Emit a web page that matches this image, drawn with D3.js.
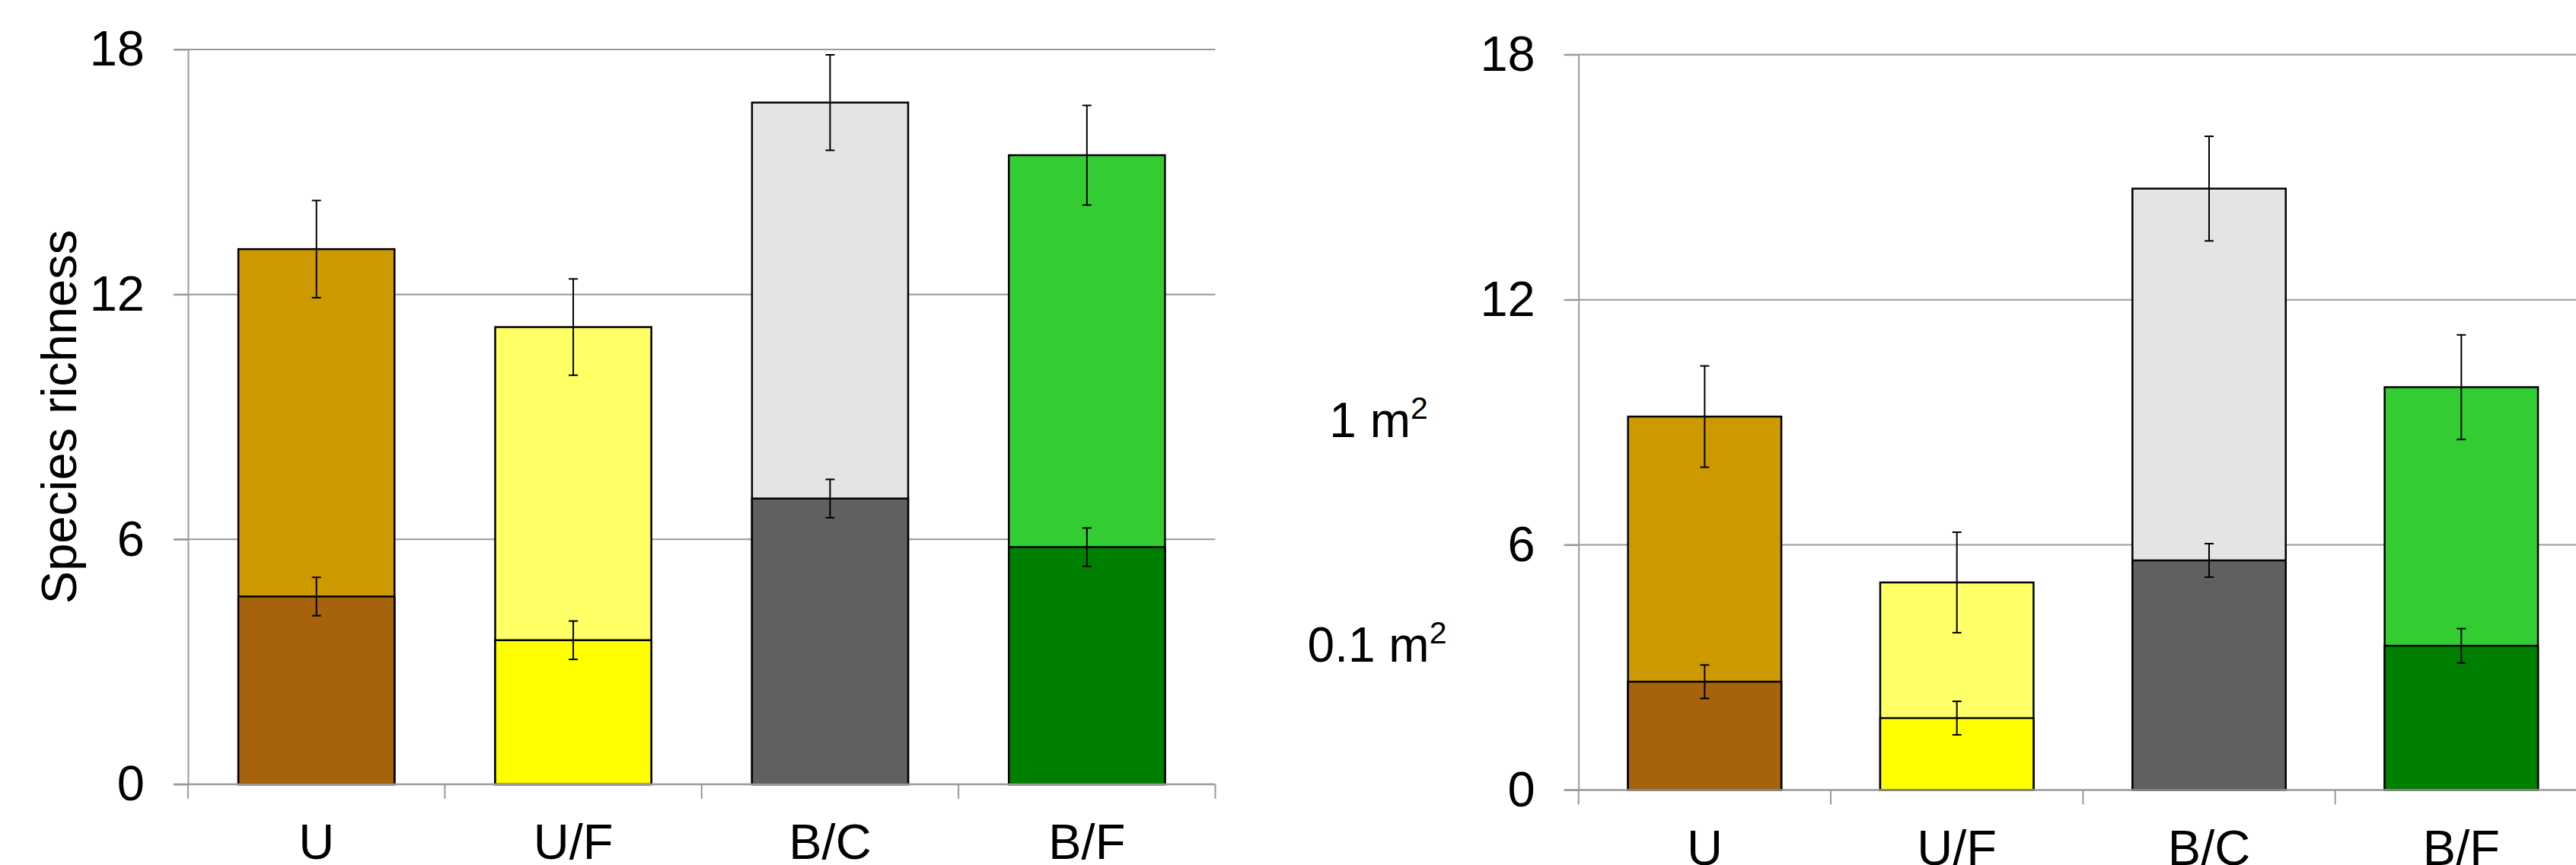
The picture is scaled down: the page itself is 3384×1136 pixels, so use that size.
<!DOCTYPE html>
<html>
<head>
<meta charset="utf-8">
<script src="https://cdn.jsdelivr.net/npm/d3@7"></script>
<style>
  body { margin: 0; background: #fff; }
  text { font-family: "Liberation Sans", Arial, sans-serif; fill: #000; }
</style>
</head>
<body>
<svg id="chart"></svg>
<script>
let width = 3384;
let height = 1136;

let categories = ["U", "U/F", "B/C", "B/F"];
let yTicks = [0, 6, 12, 18];

// left panel
let leftBig = [13.11, 11.20, 16.70, 15.41];
let leftBigErr = [1.19, 1.18, 1.17, 1.22];
let leftSmall = [4.60, 3.53, 7.00, 5.81];
let leftSmallErr = [0.47, 0.47, 0.47, 0.47];

// right panel
let rightBig = [9.14, 5.08, 14.72, 9.86];
let rightBigErr = [1.24, 1.23, 1.28, 1.28];
let rightSmall = [2.65, 1.76, 5.62, 3.53];
let rightSmallErr = [0.41, 0.41, 0.41, 0.42];

let bigColors = ["#cc9900", "#ffff66", "#e4e4e4", "#33cc33"];
let smallColors = ["#a6630c", "#ffff00", "#606060", "#008000"];

let svg = d3.select("#chart")
    .attr("width", width)
    .attr("height", height)

let panels = [
    { x0: 247, x1: 1596.5, top: 65, bottom: 1030, big: leftBig, bigErr: leftBigErr, small: leftSmall, smallErr: leftSmallErr, title: "Species richness" },
    { x0: 2073.7, x1: 3399, top: 71.7, bottom: 1037.5, big: rightBig, bigErr: rightBigErr, small: rightSmall, smallErr: rightSmallErr, title: null }
]

panels.forEach(p => drawPanel(p))

// size labels between the panels
let sizeLabels = [
    { main: "1 m", sup: "2", x: 1811, y: 574 },
    { main: "0.1 m", sup: "2", x: 1809, y: 869 }
]

sizeLabels.forEach(d => {
    let t = svg.append("text")
        .attr("x", d.x)
        .attr("y", d.y)
        .attr("text-anchor", "middle")
        .style("font-size", "64px")
    t.append("tspan").text(d.main)
    t.append("tspan")
        .attr("dy", -24)
        .style("font-size", "41px")
        .text(d.sup)
})

function drawPanel(p) {
    let x = d3.scaleBand()
        .domain(categories)
        .range([p.x0, p.x1])
        .paddingInner(0.392)
        .paddingOuter(0.196)

    let y = d3.scaleLinear()
        .domain([0, 18])
        .range([p.bottom, p.top])

    let g = svg.append("g")

    // gridlines
    g.selectAll(".grid")
        .data(yTicks.filter(t => t > 0))
        .enter()
        .append("line")
        .attr("x1", p.x0 - 19)
        .attr("x2", p.x1)
        .attr("y1", d => y(d))
        .attr("y2", d => y(d))
        .attr("stroke", "#999")
        .attr("stroke-width", 2)

    // y axis
    let yAxis = g.append("g")
        .attr("transform", `translate(${p.x0},0)`)
        .call(d3.axisLeft(y).tickValues(yTicks).tickSize(19).tickSizeOuter(0).tickPadding(38))
    yAxis.select(".domain").attr("stroke", "#999").attr("stroke-width", 2)
    yAxis.selectAll(".tick line").attr("stroke", "#999").attr("stroke-width", 2)
    yAxis.selectAll("text")
        .style("font-size", "65px")
        .style("font-family", "'Liberation Sans', Arial, sans-serif")
        .attr("fill", "#000")

    // 1 m2 bars
    g.selectAll(".big")
        .data(categories)
        .enter()
        .append("rect")
        .attr("x", d => x(d))
        .attr("width", x.bandwidth())
        .attr("y", (d, i) => y(p.big[i]))
        .attr("height", (d, i) => y(0) - y(p.big[i]))
        .attr("fill", (d, i) => bigColors[i])
        .attr("stroke", "#000")
        .attr("stroke-width", 2.5)

    // 0.1 m2 bars
    g.selectAll(".small")
        .data(categories)
        .enter()
        .append("rect")
        .attr("x", d => x(d))
        .attr("width", x.bandwidth())
        .attr("y", (d, i) => y(p.small[i]))
        .attr("height", (d, i) => y(0) - y(p.small[i]))
        .attr("fill", (d, i) => smallColors[i])
        .attr("stroke", "#000")
        .attr("stroke-width", 2.5)

    // error bars
    let errs = []
    categories.forEach((c, i) => {
        errs.push({ c: c, v: p.big[i], e: p.bigErr[i] })
        errs.push({ c: c, v: p.small[i], e: p.smallErr[i] })
    })

    let eb = g.selectAll(".err")
        .data(errs)
        .enter()
        .append("g")
        .attr("stroke", "#000")
        .attr("stroke-width", 2)

    eb.append("line")
        .attr("x1", d => x(d.c) + x.bandwidth() / 2)
        .attr("x2", d => x(d.c) + x.bandwidth() / 2)
        .attr("y1", d => y(d.v + d.e))
        .attr("y2", d => y(d.v - d.e))
    eb.append("line")
        .attr("x1", d => x(d.c) + x.bandwidth() / 2 - 6)
        .attr("x2", d => x(d.c) + x.bandwidth() / 2 + 6)
        .attr("y1", d => y(d.v + d.e))
        .attr("y2", d => y(d.v + d.e))
    eb.append("line")
        .attr("x1", d => x(d.c) + x.bandwidth() / 2 - 6)
        .attr("x2", d => x(d.c) + x.bandwidth() / 2 + 6)
        .attr("y1", d => y(d.v - d.e))
        .attr("y2", d => y(d.v - d.e))

    // baseline
    g.append("line")
        .attr("x1", p.x0 - 19)
        .attr("x2", p.x1)
        .attr("y1", y(0))
        .attr("y2", y(0))
        .attr("stroke", "#999")
        .attr("stroke-width", 2.5)

    // category boundary ticks
    g.selectAll(".ctick")
        .data(d3.range(categories.length + 1))
        .enter()
        .append("line")
        .attr("x1", i => p.x0 + i * x.step())
        .attr("x2", i => p.x0 + i * x.step())
        .attr("y1", y(0))
        .attr("y2", y(0) + 19)
        .attr("stroke", "#999")
        .attr("stroke-width", 2)

    // category labels
    let xAxis = g.append("g")
        .attr("transform", `translate(0,${y(0)})`)
        .call(d3.axisBottom(x).tickSize(0).tickPadding(52))
    xAxis.select(".domain").remove()
    xAxis.selectAll("text")
        .style("font-size", "65px")
        .style("font-family", "'Liberation Sans', Arial, sans-serif")
        .attr("fill", "#000")

    if (p.title) {
        svg.append("text")
            .attr("transform", `translate(100,${(p.top + p.bottom) / 2}) rotate(-90)`)
            .attr("text-anchor", "middle")
            .style("font-size", "65px")
            .text(p.title)
    }
}
</script>
</body>
</html>
